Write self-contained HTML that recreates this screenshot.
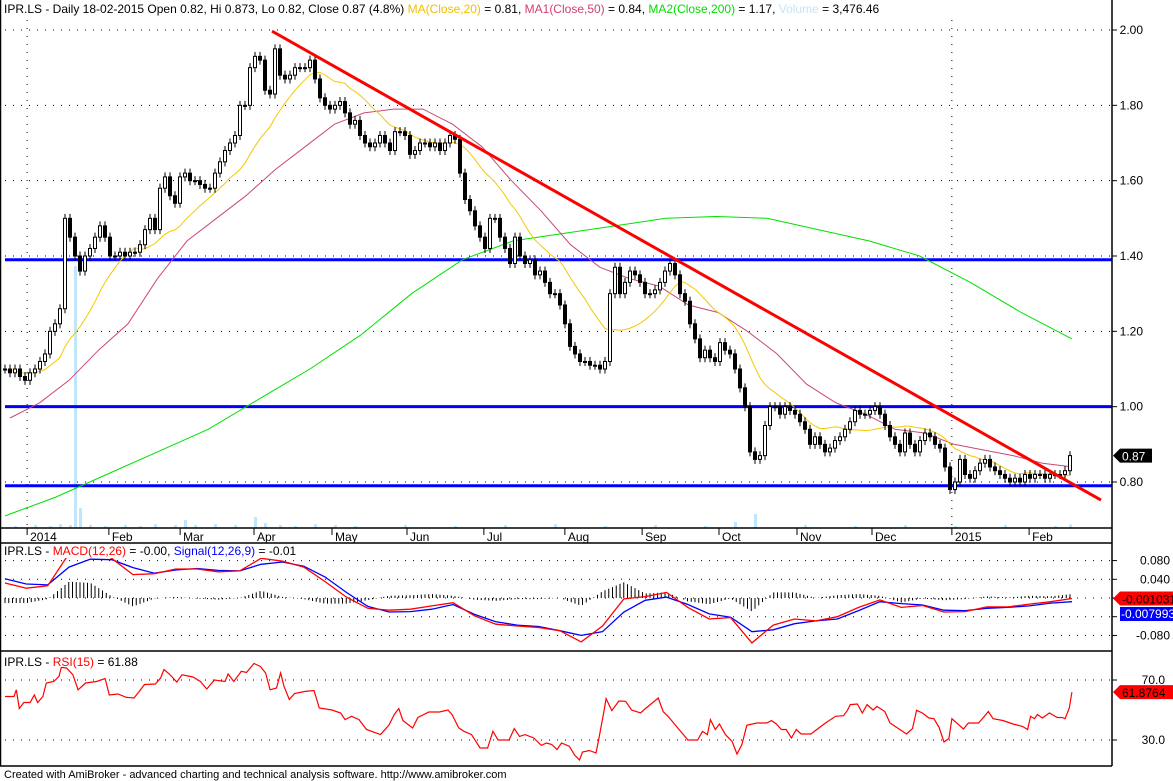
<!DOCTYPE html>
<html><head><meta charset="utf-8"><style>
html,body{margin:0;padding:0;background:#fff;}
svg{display:block;font-family:"Liberation Sans",Arial,sans-serif;}
</style></head><body>
<svg id="chart" width="1173" height="781" viewBox="0 0 1173 781" xmlns="http://www.w3.org/2000/svg">
<rect x="0" y="0" width="1173" height="781" fill="#fff"/>
<g id="grid"></g>
<g id="vol"></g>
<g id="levels"></g>
<g id="ma"></g>
<g id="candles"></g>
<g id="trend"></g>
<g id="macd"></g>
<g id="rsi"></g>
<g id="frame"></g>
<text x="4" y="13" font-size="12"><tspan fill="#000">IPR.LS - Daily 18-02-2015 Open 0.82, Hi 0.873, Lo 0.82, Close 0.87 (4.8%) </tspan><tspan fill="#f0c000">MA(Close,20)</tspan><tspan fill="#000"> = 0.81, </tspan><tspan fill="#d04070">MA1(Close,50)</tspan><tspan fill="#000"> = 0.84, </tspan><tspan fill="#00dd00">MA2(Close,200)</tspan><tspan fill="#000"> = 1.17, </tspan><tspan fill="#bfe6fb">Volume</tspan><tspan fill="#000"> = 3,476.46</tspan></text>
<text x="4" y="555" font-size="12"><tspan>IPR.LS - </tspan><tspan fill="#ff0000">MACD(12,26)</tspan><tspan> = -0.00, </tspan><tspan fill="#0000ff">Signal(12,26,9)</tspan><tspan> = -0.01</tspan></text>
<text x="4" y="666" font-size="12"><tspan>IPR.LS - </tspan><tspan fill="#ff0000">RSI(15)</tspan><tspan> = 61.88</tspan></text>
<text x="4" y="778" font-size="11">Created with AmiBroker - advanced charting and technical analysis software. http://www.amibroker.com</text>
</svg>
<script>
// ---------- DATA ----------
const closes = [1.10,1.09,1.10,1.08,1.07,1.09,1.10,1.12,1.14,1.20,1.22,1.26,1.50,1.45,1.40,1.36,1.40,1.42,1.45,1.48,
1.45,1.40,1.40,1.41,1.40,1.41,1.41,1.43,1.47,1.50,1.47,1.58,1.61,1.56,1.54,1.61,1.62,1.60,1.60,1.59,
1.58,1.58,1.62,1.65,1.68,1.70,1.72,1.80,1.80,1.90,1.93,1.92,1.84,1.83,1.95,1.88,1.87,1.88,1.90,1.90,
1.90,1.92,1.87,1.82,1.80,1.79,1.80,1.81,1.78,1.75,1.76,1.72,1.70,1.69,1.70,1.72,1.70,1.68,1.73,1.73,
1.72,1.67,1.68,1.70,1.70,1.69,1.70,1.68,1.70,1.72,1.71,1.62,1.55,1.52,1.48,1.45,1.42,1.50,1.50,1.45,
1.42,1.38,1.45,1.40,1.38,1.39,1.35,1.36,1.33,1.30,1.30,1.27,1.22,1.16,1.14,1.12,1.12,1.11,1.11,1.10,
1.12,1.30,1.37,1.30,1.33,1.36,1.35,1.33,1.30,1.30,1.31,1.33,1.36,1.38,1.35,1.30,1.28,1.22,1.18,1.13,
1.15,1.13,1.12,1.17,1.15,1.14,1.10,1.05,1.00,0.88,0.86,0.87,0.95,1.00,1.00,0.98,1.00,0.99,0.98,0.96,
0.94,0.90,0.92,0.90,0.88,0.89,0.91,0.92,0.94,0.96,0.99,0.98,0.98,0.99,1.00,0.98,0.95,0.92,0.90,0.88,
0.93,0.90,0.88,0.91,0.93,0.92,0.90,0.89,0.84,0.78,0.80,0.86,0.82,0.81,0.83,0.85,0.86,0.84,0.83,0.82,
0.81,0.80,0.81,0.80,0.82,0.81,0.82,0.82,0.81,0.82,0.82,0.82,0.83,0.87];
const ma50 = [0.97,1.01,1.07,1.15,1.22,1.34,1.44,1.50,1.56,1.63,1.69,1.75,1.78,1.79,1.79,1.75,1.69,1.60,1.52,1.43,
1.37,1.34,1.32,1.27,1.25,1.20,1.14,1.06,1.01,0.98,0.94,0.93,0.90,0.885,0.87,0.85,0.84];
const ma200 = [0.71,0.76,0.82,0.88,0.94,1.02,1.10,1.19,1.30,1.39,1.44,1.46,1.48,1.50,1.505,1.50,1.47,1.44,1.40,1.33,1.25,1.18];
const levels = [1.39,1.00,0.79];
const trendStart = [53.4,1.997];
const trendEnd = [219.2,0.752];
const volIdx = [2,6,9,11,13,14,15,17,20,24,27,30,34,36,38,42,46,50,52,55,58,62,66,70,80,90,100,110,120,130,140,146,150,160,170,180,190,200,210,213];
const volVal = [2000,3000,2000,4000,3000,262000,20000,3000,2000,3000,2000,4000,3000,8000,3000,4000,3000,11000,5000,3000,2000,4000,3000,2000,3000,2000,3000,4000,2000,3000,2000,6000,14000,3000,2000,3000,2000,3000,2000,3476];
const priceTicks = [2.00,1.80,1.60,1.40,1.20,1.00,0.80];
const monthLabels = ["2014","Feb","Mar","Apr","May","Jun","Jul","Aug","Sep","Oct","Nov","Dec","2015","Feb"];
const monthDay = [6.7,28.5,47.5,67.2,88,108,128.5,150.1,170.7,191.2,212,232,253.3,273.9];
const macdVals = [0.032,0.021,0.026,0.095,0.11,0.085,0.05,0.052,0.062,0.062,0.056,0.058,0.085,0.079,0.066,0.035,0.002,-0.022,-0.026,-0.024,-0.017,-0.01,-0.038,-0.056,-0.06,-0.063,
-0.070,-0.094,-0.06,-0.002,0.003,0.012,-0.02,-0.045,-0.042,-0.096,-0.058,-0.045,-0.049,-0.04,-0.02,-0.004,-0.02,-0.016,-0.03,-0.029,-0.019,-0.019,-0.013,-0.008,-0.001];
const signalVals = [0.041,0.030,0.028,0.066,0.083,0.082,0.065,0.053,0.06,0.063,0.059,0.058,0.072,0.077,0.068,0.045,0.012,-0.018,-0.03,-0.029,-0.024,-0.014,-0.035,-0.051,-0.058,-0.061,
-0.070,-0.08,-0.072,-0.03,-0.005,0.002,-0.014,-0.034,-0.041,-0.072,-0.068,-0.055,-0.049,-0.045,-0.027,-0.008,-0.012,-0.015,-0.026,-0.027,-0.022,-0.020,-0.017,-0.011,-0.008];
const macdTicks = [0.08,0.04,-0.08];
const rsiDay = [0,2.4,3,3.8,5,6.7,7.8,8.7,10.1,11,13,14.4,15,16.4,18.1,19.5,21.5,24.4,26.7,27.8,30.1,32.4,34.4,35.8,37.2,40.1,41.5,42.4,43.8,45.8,47.2,50.1,52.1,53.8,55.8,58.7,59.5,61,63,64.4,66.4,68.1,69.5,70.7,72.4,73.5,74.4,75.8,77.2,80.1,82.4,83.8,87.2,89.5,90.7,92.4,94.4,96.4,100.1,102.4,103.8,105,106.1,108.7,110.1,113,115.8,118.1,119.2,121,122.4,124.4,126.7,128.7,130.1,131.5,134.4,135.8,137.2,138.7,141,143,144.4,145.8,147.2,
148.4,150.5,151.9,153.2,154,155.8,157.6,158.4,159.7,160.3,161.8,163.7,165.5,167.1,169.5,170.8,174.2,175.5,176.8,179.4,182.1,184.7,186,187.3,188.1,189.4,190.5,192.1,193.9,195.2,196.5,197.8,200.5,203.1,204.4,205.7,207,208.3,209.7,211,212.3,214.9,217,218.8,221.5,223.6,224.6,225.4,227.3,228.6,229.9,231.5,232.5,234.6,236,238.6,240.4,242,243.1,244.6,246.4,247.7,249.1,250.4,251.7,252.5,254.3,255.6,256.9,259.6,260.9,262.2,263.5,266.1,268.8,271.4,272.7,273.5,274.5,275.3,276.6,278.5,280.6,281.9,282.7,283.8,284.5];
const rsiVals = [59,59,63.5,51,55,55,60,55,59,68,69,72.4,78.4,78,73.5,63.5,68,69,71,60,60.7,58.4,58,62.4,67,67.3,71.3,77,74,68.7,73.5,72,69,64,70,69,74,69,75.8,75,81,79,74.7,63.5,64.7,74.7,65.8,57,61,62.4,63,51.3,50,48,43.6,45.8,43.6,37,33.6,40,47,51,43,38,45,48.7,48.7,50,47,38,35.8,33.6,24.7,24.7,35.8,30,30,37.6,32.4,33.6,31.3,26.4,28,27,23.6,
28,25.8,20,16.7,22,23,21.3,31.3,49,57.6,49.6,56,55.8,50,48,51,58,49,45.8,38,30,30,35.8,33.6,43.6,37,40.7,33.6,29,20.7,27,39.8,41.3,41.3,42.9,40.7,37,37,31.3,37,34,34,38,41.3,45.8,46.2,49.6,53.6,54,48,53.6,50,52.4,49,41.3,37,34,37.6,49.8,48,44.7,44.2,38.4,28.7,31,44.2,40.2,37.3,41.3,41.3,45,49,44.2,43,40.7,39,37,45.8,44.2,47,44.7,48,45,45,44.2,51.3,61.88];
const rsiTicks = [70,30];

// ---------- AXES ----------
const NS = "http://www.w3.org/2000/svg";
const X0 = 5, X1 = 1070, PLOT_R = 1112;
function cx(i){ return X0 + i * (X1 - X0) / (closes.length - 1); }
function dayX(d){ return 5 + d * 3.75; }
function spreadX(i, n){ return 5 + i * (1072 - 5) / (n - 1); }
function py(p){ return 30 + (2.0 - p) * 376.67; }
function my(v){ return 598 - v * 467.5; }
function ry(v){ return 680 + (70 - v) * 1.5; }
function mk(tag, attrs, parent){
  const el = document.createElementNS(NS, tag);
  for (const k in attrs) el.setAttribute(k, attrs[k]);
  parent.appendChild(el); return el;
}
const G = id => document.getElementById(id);

// grid
const grid = G('grid');
priceTicks.forEach(t => {
  const l = mk('line', {x1:5, x2:PLOT_R, y1:py(t), y2:py(t), stroke:'#000', 'stroke-width':1, 'stroke-dasharray':'1 7'}, grid);
  
  
  const tk = mk('line', {x1:PLOT_R, x2:PLOT_R+5, y1:py(t), y2:py(t), stroke:'#000'}, grid);
  
  
  const tx = mk('text', {x:1143, y:py(t)+4, 'font-size':12, 'text-anchor':'end', fill:'#000'}, grid);
  tx.textContent = t.toFixed(2);
  
  
});
[0, 12].forEach(k => {
  const x = dayX(monthDay[k]) - 3;
  const l = mk('line', {x1:x, x2:x, y1:20, y2:528, stroke:'#000', 'stroke-dasharray':'1 7'}, grid);
  
  
});
monthLabels.forEach((m, k) => {
  const x = dayX(monthDay[k]);
  const tk = mk('line', {x1:x-3, x2:x-3, y1:528, y2:535, stroke:'#000'}, grid);
  
  
  const tx = mk('text', {x:x, y:541, 'font-size':12, fill:'#000'}, grid);
  tx.textContent = m;
  
  
});
macdTicks.forEach(t => {
  const tx = mk('text', {x:1170, y:my(t)+4, 'font-size':12, 'text-anchor':'end'}, grid);
  tx.textContent = t.toFixed(3);
  
  
});
[0.08,0.04,0,-0.04,-0.08].forEach(t => {
  const l = mk('line', {x1:5, x2:PLOT_R, y1:my(t), y2:my(t), stroke:'#000', 'stroke-dasharray':'1 7'}, grid);
  
  
  mk('line', {x1:PLOT_R, x2:PLOT_R+5, y1:my(t), y2:my(t), stroke:'#000'}, grid);
});
rsiTicks.forEach(t => {
  const l = mk('line', {x1:5, x2:PLOT_R, y1:ry(t), y2:ry(t), stroke:'#000', 'stroke-dasharray':'1 7'}, grid);
  
  
  mk('line', {x1:PLOT_R, x2:PLOT_R+5, y1:ry(t), y2:ry(t), stroke:'#000'}, grid);
  const tx = mk('text', {x:1165, y:ry(t)+4, 'font-size':12, 'text-anchor':'end'}, grid);
  tx.textContent = t.toFixed(1);
  
  
});

// volume
const vol = G('vol');
volIdx.forEach((d, k) => {
  const h = Math.max(1, volVal[k] / 1000);
  const r = mk('rect', {x:cx(d)-1, y:528-h, width:3, height:h, fill:'#bfe6fb'}, vol);
  
  
});

// support / resistance
const lv = G('levels');
levels.forEach(p => {
  const l = mk('line', {x1:5, x2:PLOT_R, y1:py(p), y2:py(p), stroke:'#0000ff', 'stroke-width':3}, lv);
  
  
});

// moving averages
function poly(pts, color, w, parent, name){
  const p = mk('polyline', {points:pts.map(a => a[0].toFixed(1)+','+a[1].toFixed(1)).join(' '), fill:'none', stroke:color, 'stroke-width':w}, parent);
  
  
  return p;
}
const maG = G('ma');
const ma20 = closes.map((c, i) => { const s = closes.slice(Math.max(0, i-14), i+1); return s.reduce((a,b)=>a+b,0)/s.length; });
poly(ma200.map((v,i) => [spreadX(i, ma200.length), py(v)]), '#00e000', 1, maG, 'ma200-line');
poly(ma50.map((v,i) => [10 + i*(1072-10)/(ma50.length-1), py(v)]), '#c84a78', 1, maG, 'ma50-line');
poly(ma20.map((v,i) => [cx(i), py(v)]), '#f5c800', 1, maG, 'ma20-line');

// candles
const cg = G('candles');
closes.forEach((c, i) => {
  const o = i > 0 ? closes[i-1] : c;
  const hi = Math.max(o, c) + 0.012, lo = Math.min(o, c) - 0.012;
  const x = cx(i);
  const w = mk('line', {x1:x, x2:x, y1:py(hi), y2:py(lo), stroke:'#000'}, cg);
  
  
  const top = py(Math.max(o, c)), h = Math.max(1, Math.abs(py(o) - py(c)));
  const b = mk('rect', {x:x-1.5, y:top, width:3, height:h, fill: c < o ? '#000' : '#fff', stroke:'#000', 'stroke-width':1}, cg);
  
  
});

// trend line
const tl = mk('line', {x1:cx(trendStart[0]), y1:py(trendStart[1]), x2:cx(trendEnd[0]), y2:py(trendEnd[1]), stroke:'#ff0000', 'stroke-width':3}, G('trend'));



// last price marker
function marker(parent, y, txt, bg, fg, name, x0, x1){
  const g = mk('g', {}, parent);
  
  
  mk('polygon', {points:`${x0},${y} ${x0+7},${y-7} ${x1},${y-7} ${x1},${y+7} ${x0+7},${y+7}`, fill:bg}, g);
  const t = mk('text', {x:x0+9, y:y+5, 'font-size':12, fill:fg}, g);
  t.textContent = txt;
}
marker(G('trend'), py(closes[closes.length-1]), closes[closes.length-1].toFixed(2), '#000', '#fff', 'last-price-label', 1113, 1152);

// MACD
const mg = G('macd');
const clip = mk('clipPath', {id:'mclip'}, mg);
mk('rect', {x:0, y:558, width:PLOT_R, height:92}, clip);
const mIn = mk('g', {'clip-path':'url(#mclip)'}, mg);
function interp(arr, x){
  const n = arr.length, f = (x - 5) / ((1072 - 5) / (n - 1));
  const i = Math.max(0, Math.min(n - 2, Math.floor(f))), t = Math.min(1, Math.max(0, f - i));
  return arr[i] * (1 - t) + arr[i+1] * t;
}
for (let x = 5; x <= 1072; x += 3.75) {
  const d = interp(macdVals, x) - interp(signalVals, x);
  const l = mk('line', {x1:x, x2:x, y1:my(0), y2:my(0) - d * 467.5 * 1.2, stroke:'#000', 'stroke-width':1}, mIn);
  
  
}
poly(signalVals.map((v,i) => [spreadX(i, signalVals.length), my(v)]), '#0000ff', 1.3, mIn, 'signal-line');
poly(macdVals.map((v,i) => [spreadX(i, macdVals.length), my(v)]), '#ff0000', 1.3, mIn, 'macd-line');
marker(mg, my(macdVals[macdVals.length-1]), '-0.001031', '#ff0000', '#000', 'macd-value-label', 1113, 1173);
const bl = mk('g', {}, mg);


mk('rect', {x:1120, y:607, width:53, height:14, fill:'#0000ff'}, bl);
const blt = mk('text', {x:1121, y:618, 'font-size':12, fill:'#fff'}, bl);
blt.textContent = '-0.007993';

// RSI
const rg = G('rsi');
poly(rsiVals.map((v,i) => [dayX(rsiDay[i]), ry(v)]), '#ff0000', 1.2, rg, 'rsi-line');
marker(rg, ry(rsiVals[rsiVals.length-1]), '61.8764', '#ff0000', '#000', 'rsi-value-label', 1113, 1173);

// frame
const fr = G('frame');
[[0.5,0,0.5,766],[PLOT_R,0,PLOT_R,766],[0,528,PLOT_R,528],[0,543,PLOT_R,543],[0,651,PLOT_R,651],[0,766,PLOT_R,766]].forEach(a => {
  const l = mk('line', {x1:a[0], y1:a[1], x2:a[2], y2:a[3], stroke:'#000', 'stroke-width':1.5}, fr);
  
  
});
</script>
</body></html>
